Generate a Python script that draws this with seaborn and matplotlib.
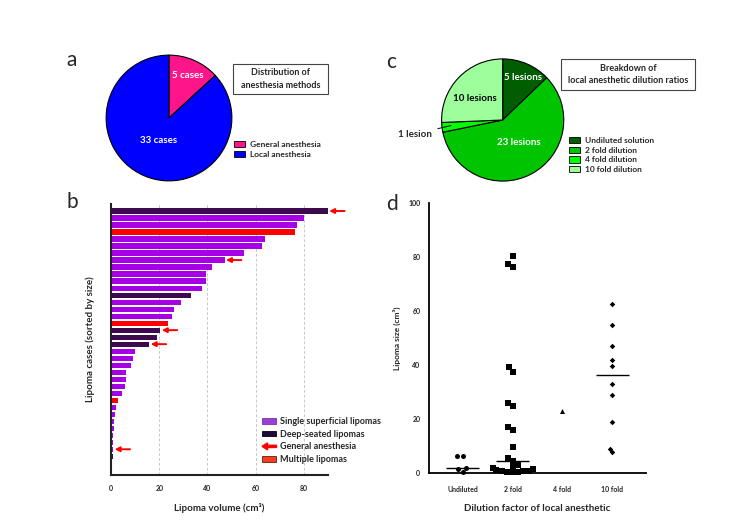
import numpy as np
import pandas as pd
import matplotlib
matplotlib.use("Agg")
import matplotlib.pyplot as plt
import matplotlib.patches as mpatches
from matplotlib.legend_handler import HandlerPatch
import seaborn as sns

# panel a: anesthesia methods
anesthesia_labels = ["General anesthesia", "Local anesthesia"]
anesthesia_counts = [5, 33]
anesthesia_colors = ["#FF158A", "#0000FF"]

# panel c: dilution ratios
dilution_labels = ["Undiluted solution", "2 fold dilution", "4 fold dilution", "10 fold dilution"]
dilution_counts = [5, 23, 1, 10]
dilution_colors = ["#005E00", "#00C400", "#00FF00", "#9CFF9C"]

# panel b: lipoma volumes sorted by size
lipoma_volumes = [90.0, 80.3, 77.4, 76.4, 64.0, 62.8, 55.0, 47.1, 41.8, 39.5,
                  39.2, 37.7, 33.1, 29.0, 26.1, 25.1, 23.4, 20.4, 18.9, 15.8,
                  9.7, 9.2, 8.1, 6.3, 6.2, 5.8, 4.5, 2.9, 1.8, 1.5,
                  1.3, 1.0, 0.9, 0.8, 0.8, 0.5, 0.4, 0.3]
lipoma_types = ["deep", "single", "single", "multiple", "single", "single", "single", "single", "single", "single",
                "single", "single", "deep", "single", "single", "single", "multiple", "deep", "deep", "deep",
                "single", "single", "single", "single", "single", "single", "single", "multiple", "single", "single",
                "single", "single", "single", "single", "single", "deep", "deep", "deep"]
general_anesthesia_cases = [1, 8, 18, 20, 35]

# panel d: lipoma size by dilution
dilution_cats = ["Undiluted", "2 fold", "4 fold", "10 fold"]
size_undiluted = [6.3, 6.3, 1.9, 1.5, 0.6]
size_2fold = [80.3, 77.4, 76.4, 39.2, 37.7, 26.1, 25.1, 17.0, 16.0, 9.7, 5.8, 4.5,
              3.0, 2.3, 1.8, 1.5, 1.3, 1.0, 0.9, 0.8, 0.5, 0.4, 0.3]
size_4fold = [23.2]
size_10fold = [62.8, 55.0, 47.1, 41.8, 39.6, 33.0, 29.0, 18.9, 9.1, 8.0]

sns.set_style("white")
plt.rcParams["font.family"] = ["Lato", "DejaVu Sans"]

W, H = 750, 530
fig = plt.figure(figsize=(7.5, 5.3), dpi=100)


def fx(px):
    return px / W


def fy(py):
    return 1 - py / H


def pie_axes(cx, cy, r):
    return fig.add_axes([fx(cx - r), fy(cy + r), 2 * r / W, 2 * r / H])


def title_box(x0, y0, x1, y1, text):
    rect = mpatches.Rectangle((fx(x0), fy(y1)), fx(x1) - fx(x0), fy(y0) - fy(y1),
                              transform=fig.transFigure, fill=False, edgecolor="#444444", lw=0.8)
    fig.add_artist(rect)
    fig.text(fx((x0 + x1) / 2), fy((y0 + y1) / 2), text, ha="center", va="center",
             fontsize=6.5, fontweight="bold", linespacing=1.5)


# ---- panel a ----
axa = pie_axes(169, 118, 63.5)
axa.pie(anesthesia_counts, colors=anesthesia_colors, startangle=90, counterclock=False,
        wedgeprops=dict(edgecolor="black", linewidth=0.8))
axa.set_xlim(-1.01, 1.01)
axa.set_ylim(-1.01, 1.01)
axa.text(0.30, 0.67, f"{anesthesia_counts[0]} cases", color="white", fontsize=7,
         fontweight="bold", ha="center", va="center")
axa.text(-0.16, -0.35, f"{anesthesia_counts[1]} cases", color="white", fontsize=7,
         fontweight="bold", ha="center", va="center")
title_box(233, 64, 328, 94, "Distribution of\nanesthesia methods")
fig.legend([mpatches.Patch(facecolor=c, edgecolor="black", lw=0.6) for c in anesthesia_colors],
           anesthesia_labels, loc="upper left", bbox_to_anchor=(fx(234), fy(141)),
           frameon=False, handlelength=1.3, handleheight=0.8,
           handletextpad=0.6, labelspacing=0.3, borderpad=0, borderaxespad=0,
           prop=dict(weight="bold", size=6))
fig.text(fx(66), fy(60), "a", fontsize=15, va="center")

# ---- panel c ----
axc = pie_axes(502.7, 120, 61.7)
axc.pie(dilution_counts, colors=dilution_colors, startangle=90, counterclock=False,
        wedgeprops=dict(edgecolor="black", linewidth=0.8))
axc.set_xlim(-1.01, 1.01)
axc.set_ylim(-1.01, 1.01)
axc.text(0.33, 0.70, f"{dilution_counts[0]} lesions", color="white", fontsize=7,
         fontweight="bold", ha="center", va="center")
axc.text(0.27, -0.37, f"{dilution_counts[1]} lesions", color="white", fontsize=7,
         fontweight="bold", ha="center", va="center")
axc.text(-0.45, 0.36, f"{dilution_counts[3]} lesions", color="black", fontsize=7,
         fontweight="bold", ha="center", va="center")
axc.annotate(f"{dilution_counts[2]} lesion", xy=(-0.80, -0.08), xytext=(-1.16, -0.23),
             ha="right", va="center", fontsize=7, fontweight="bold",
             arrowprops=dict(arrowstyle="-", color="black", lw=0.7), annotation_clip=False)
title_box(561, 59, 695, 90, "Breakdown of\nlocal anesthetic dilution ratios")
fig.legend([mpatches.Patch(facecolor=c, edgecolor="black", lw=0.6) for c in dilution_colors],
           dilution_labels, loc="upper left", bbox_to_anchor=(fx(569), fy(137)),
           frameon=False, handlelength=1.3, handleheight=0.8,
           handletextpad=0.6, labelspacing=0.3, borderpad=0, borderaxespad=0,
           prop=dict(weight="bold", size=6))
fig.text(fx(386), fy(62), "c", fontsize=15, va="center")

# ---- panel b ----
axb = fig.add_axes([fx(111.3), fy(475), fx(327.7) - fx(111.3), fy(204) - fy(475)])
df_b = pd.DataFrame({"case": [str(i + 1) for i in range(len(lipoma_volumes))],
                     "volume": lipoma_volumes, "type": lipoma_types})
type_colors = {"single": "#A500E6", "deep": "#3D0A50", "multiple": "#FF0000"}
sns.barplot(data=df_b, x="volume", y="case", hue="type", palette=type_colors,
            dodge=False, orient="h", width=0.74, legend=False, ax=axb, saturation=1,
            linewidth=0, edgecolor="none")
for rank in general_anesthesia_cases:
    v = lipoma_volumes[rank - 1]
    axb.annotate("", xy=(v + 0.6, rank - 1), xytext=(v + 7, rank - 1),
                 arrowprops=dict(arrowstyle="-|>", color="red", lw=1.4, mutation_scale=7,
                                 shrinkA=0, shrinkB=0),
                 annotation_clip=False)
axb.set_xlim(0, 90)
axb.set_ylim(len(lipoma_volumes) - 0.33, -1)
axb.set_xticks([0, 20, 40, 60, 80])
axb.xaxis.grid(True, linestyle=(0, (3, 2)), color="#c8c8c8", lw=0.7)
axb.set_axisbelow(True)
axb.set_yticks([])
for s in ["top", "right"]:
    axb.spines[s].set_visible(False)
for s in ["left", "bottom"]:
    axb.spines[s].set_linewidth(1.5)
    axb.spines[s].set_color("#222222")
axb.tick_params(axis="x", length=0, labelsize=5, pad=7)
for lbl in axb.get_xticklabels():
    lbl.set_fontweight("bold")
axb.set_xlabel("Lipoma volume (cm³)", fontsize=7, fontweight="bold", labelpad=8)
axb.set_ylabel("Lipoma cases (sorted by size)", fontsize=7, fontweight="bold", labelpad=12)


def make_arrow(legend, orig_handle, xdescent, ydescent, width, height, fontsize):
    return mpatches.FancyArrow(width, height / 2, -width, 0, width=1.6, head_width=5,
                               head_length=4, length_includes_head=True)


arrow_handle = mpatches.FancyArrow(0, 0, 1, 0, color="red")
handles_b = [mpatches.Patch(facecolor="#9B3FD6", edgecolor="#7A2FB0", lw=0.6),
             mpatches.Patch(facecolor="#1E0A3C", edgecolor="black", lw=0.6),
             arrow_handle,
             mpatches.Patch(facecolor="#F0401E", edgecolor="#6A1A10", lw=0.6)]
labels_b = ["Single superficial lipomas", "Deep-seated lipomas", "General anesthesia", "Multiple lipomas"]
axb.legend(handles_b, labels_b, loc="upper left", bbox_to_anchor=(fx(262), fy(417)),
           bbox_transform=fig.transFigure, frameon=False, handlelength=1.6, handleheight=0.6,
           handletextpad=0.4, labelspacing=0.4, borderpad=0, borderaxespad=0,
           prop=dict(weight="bold", size=6.5),
           handler_map={arrow_handle: HandlerPatch(patch_func=make_arrow)})
fig.text(fx(66), fy(202), "b", fontsize=15, va="center")

# ---- panel d ----
axd = fig.add_axes([fx(429.3), fy(473.3), fx(645.7) - fx(429.3), fy(203.3) - fy(473.3)])
groups = [size_undiluted, size_2fold, size_4fold, size_10fold]
marker_styles = ["o", "s", "^", "D"]
marker_sizes = [3.6, 3.8, 3.6, 2.8]
for cat, vals, mk, ms in zip(dilution_cats, groups, marker_styles, marker_sizes):
    sns.swarmplot(x=[cat] * len(vals), y=vals, order=dilution_cats, marker=mk, color="black",
                  size=ms, linewidth=0, ax=axd, clip_on=False)
for j, vals in enumerate(groups):
    if len(vals) > 1:
        axd.hlines(np.median(vals), j - 0.33, j + 0.33, color="black", lw=1)
axd.set_xlim(-0.667, 3.667)
axd.set_ylim(0, 100)
axd.set_yticks([0, 20, 40, 60, 80, 100])
for s in ["top", "right"]:
    axd.spines[s].set_visible(False)
for s in ["left", "bottom"]:
    axd.spines[s].set_linewidth(1.3)
    axd.spines[s].set_color("black")
axd.tick_params(axis="both", length=3, width=0.8, labelsize=5, direction="out", color="black")
axd.tick_params(axis="x", pad=6)
for lbl in axd.get_xticklabels() + axd.get_yticklabels():
    lbl.set_fontweight("bold")
axd.set_xlabel("Dilution factor of local anesthetic", fontsize=7, fontweight="bold", labelpad=8)
axd.set_ylabel("Lipoma size (cm³)", fontsize=6, fontweight="bold", labelpad=5)
fig.text(fx(386), fy(204), "d", fontsize=15, va="center")

fig.savefig("out.png", dpi=100)
